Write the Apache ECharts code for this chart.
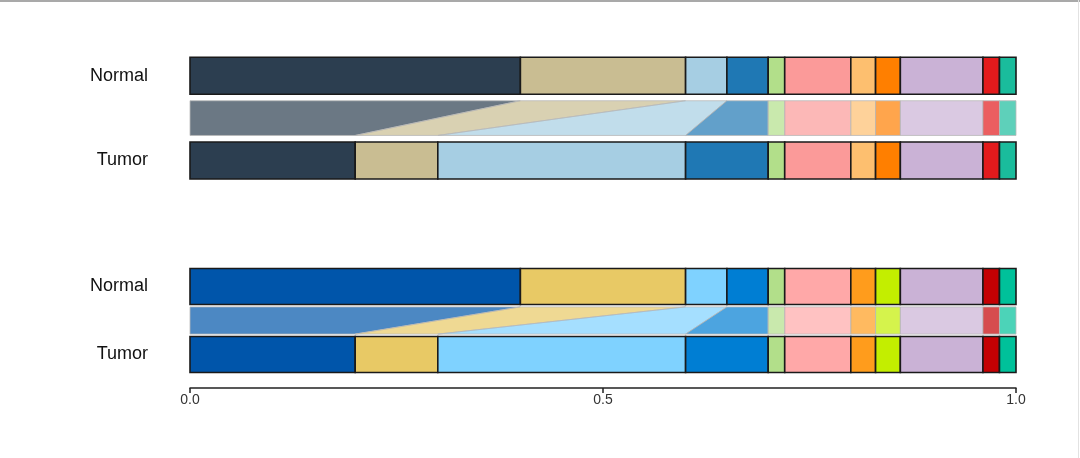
<!DOCTYPE html>
<html>
<head>
<meta charset="utf-8">
<script src="https://cdn.jsdelivr.net/npm/echarts@6/dist/echarts.min.js"></script>
<style>
html,body{margin:0;padding:0;background:#fff;}
#c{width:1080px;height:458px;}
</style>
</head>
<body>
<div id="c"></div>
<script>
// ---- data ----
const categories = ['Normal', 'Tumor'];
const topNormal = [0.40, 0.20, 0.05, 0.05, 0.02, 0.08, 0.03, 0.03, 0.10, 0.02, 0.02];
const topTumor  = [0.20, 0.10, 0.30, 0.10, 0.02, 0.08, 0.03, 0.03, 0.10, 0.02, 0.02];
const botNormal = [0.40, 0.20, 0.05, 0.05, 0.02, 0.08, 0.03, 0.03, 0.10, 0.02, 0.02];
const botTumor  = [0.20, 0.10, 0.30, 0.10, 0.02, 0.08, 0.03, 0.03, 0.10, 0.02, 0.02];
const topColors = ['#2C3E50', '#C9BD92', '#A6CEE3', '#1F78B4', '#B2DF8A', '#FB9A99', '#FDBF6F', '#FF7F00', '#CAB2D6', '#E31A1C', '#1ABC9C'];
const botColors = ['#0055AA', '#E8C965', '#7FD2FF', '#007ED3', '#B2DF8A', '#FFA8A8', '#FF9C1C', '#C3EE00', '#CAB2D6', '#C40003', '#00C19A'];
const tickLabels = ['0.0', '0.5', '1.0'];

function buildRows(normal, tumor) {
  const rows = [];
  let cn = 0, ct = 0;
  for (let i = 0; i < normal.length; i++) {
    rows.push([cn, cn + normal[i], ct, ct + tumor[i], 1]);
    cn += normal[i];
    ct += tumor[i];
  }
  return rows;
}

function hexToRgba(hex, a) {
  const n = parseInt(hex.slice(1), 16);
  return 'rgba(' + ((n >> 16) & 255) + ',' + ((n >> 8) & 255) + ',' + (n & 255) + ',' + a + ')';
}

function makeRender(colors, barHalf, bandHalf) {
  return function (params, api) {
    const n0 = api.value(0), n1 = api.value(1), t0 = api.value(2), t1 = api.value(3);
    const cat = api.size([0, 1])[1];
    const yN = api.coord([0, 0])[1];
    const yL = api.coord([0, 1])[1];
    const yT = api.coord([0, 2])[1];
    const xn0 = api.coord([n0, 0])[0], xn1 = api.coord([n1, 0])[0];
    const xt0 = api.coord([t0, 0])[0], xt1 = api.coord([t1, 0])[0];
    const col = colors[params.dataIndex];
    const bh = cat * barHalf, dh = cat * bandHalf;
    return {
      type: 'group',
      children: [
        {
          type: 'polygon',
          shape: { points: [[xn0, yL - dh], [xn1, yL - dh], [xt1, yL + dh], [xt0, yL + dh]] },
          style: { fill: hexToRgba(col, 0.7), stroke: 'rgba(185,185,185,0.8)', lineWidth: 1 }
        },
        {
          type: 'rect',
          shape: { x: xn0, y: yN - bh, width: xn1 - xn0, height: bh * 2 },
          style: { fill: col, stroke: '#1a1a1a', lineWidth: 1.6 }
        },
        {
          type: 'rect',
          shape: { x: xt0, y: yT - bh, width: xt1 - xt0, height: bh * 2 },
          style: { fill: col, stroke: '#1a1a1a', lineWidth: 1.6 }
        }
      ]
    };
  };
}

const yCats = [categories[0], '', categories[1]];
const yAxisBase = {
  type: 'category',
  data: yCats,
  inverse: true,
  axisLine: { show: false },
  axisTick: { show: false },
  splitLine: { show: false },
  axisLabel: { margin: 42, fontSize: 18, color: '#111', fontFamily: 'Liberation Sans, Arial, sans-serif', padding: [2, 0, 0, 0] }
};

const chart = echarts.init(document.getElementById('c'));
chart.setOption({
  animation: false,
  backgroundColor: '#fff',
  grid: [
    { left: 190, right: 64, top: 54.6, height: 127 },
    { left: 190, right: 64, top: 269.5, height: 102 }
  ],
  xAxis: [
    { gridIndex: 0, type: 'value', min: 0, max: 1, show: false },
    {
      gridIndex: 1, type: 'value', min: 0, max: 1, interval: 0.5, offset: 16.5,
      position: 'bottom',
      axisLine: { show: true, lineStyle: { color: '#222', width: 1.5 } },
      axisTick: { show: true, length: 5, lineStyle: { color: '#222', width: 1.5 } },
      splitLine: { show: false },
      axisLabel: {
        margin: 5, fontSize: 14, color: '#333', fontFamily: 'Liberation Sans, Arial, sans-serif',
        formatter: function (v) { return tickLabels[Math.round(v * 2)]; }
      }
    }
  ],
  yAxis: [
    Object.assign({ gridIndex: 0 }, yAxisBase),
    Object.assign({ gridIndex: 1 }, yAxisBase)
  ],
  series: [
    {
      type: 'custom', xAxisIndex: 0, yAxisIndex: 0,
      renderItem: makeRender(topColors, 0.437, 0.41),
      encode: { x: [0, 1, 2, 3], y: 4 },
      data: buildRows(topNormal, topTumor)
    },
    {
      type: 'custom', xAxisIndex: 1, yAxisIndex: 1,
      renderItem: makeRender(botColors, 0.53, 0.40),
      encode: { x: [0, 1, 2, 3], y: 4 },
      data: buildRows(botNormal, botTumor)
    }
  ],
  graphic: [
    { type: 'line', shape: { x1: 0, y1: 1, x2: 1080, y2: 1 }, style: { stroke: '#a9a9a9', lineWidth: 2 } },
    { type: 'line', shape: { x1: 1078.5, y1: 0, x2: 1078.5, y2: 458 }, style: { stroke: '#e2e2e2', lineWidth: 1 } }
  ]
});
</script>
</body>
</html>
